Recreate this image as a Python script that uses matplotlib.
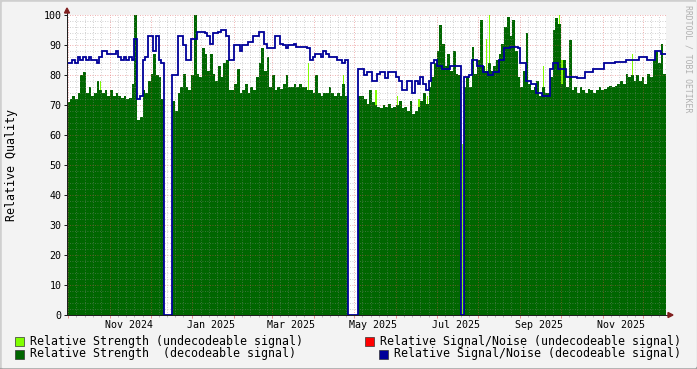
import numpy as np
import matplotlib
matplotlib.use('Agg')
import matplotlib.pyplot as plt
import matplotlib.dates as mdates
from matplotlib.patches import Rectangle, Polygon
from matplotlib.transforms import blended_transform_factory

# ---- data: one value every 2 days starting 2024-09-30 ----
start = np.datetime64('2024-09-30')
step_days = 2

strength_ok = [
    71, 72, 73, 72, 74, 80, 81, 74, 76, 73,
    74, 78, 75, 74, 75, 73, 75, 73, 74, 73,
    72.5, 73, 72, 72.5, 77, 100, 65, 66, 75, 74,
    78, 80.5, 87, 80, 79.5, 72, 0, 0, 0, 71.5,
    68, 74, 76, 80.5, 76, 75, 80, 100, 80.5, 79.5,
    89, 87, 81.5, 87, 80.5, 78, 83, 79.5, 84, 85,
    75, 75, 77, 82, 74, 75, 77, 74, 76, 75,
    79.5, 84, 89, 81.5, 86, 76, 80, 75, 76, 75.5,
    77, 80, 76, 76, 77, 76, 77, 76, 76, 75,
    75, 74, 80, 74, 73, 74, 74, 76, 74, 73,
    74, 73, 77, 73, 0, 0, 0, 0, 73, 73,
    72, 70.5, 75, 71, 70, 69.5, 69, 70, 69.5, 70.5,
    69, 69.5, 70, 71.5, 69, 69.5, 68, 71.5, 67, 68,
    69.5, 71.5, 74, 70.5, 76, 79.5, 84, 88, 96.7, 90.5,
    83, 87, 81.5, 88, 80.5, 80, 0, 76, 79.5, 76,
    89.5, 80.5, 85, 98.3, 83, 81.5, 84, 81.5, 83, 85,
    87, 90.5, 96, 99.5, 93, 98.3, 88, 79.5, 76, 81.5,
    94, 77, 75, 76, 78, 73, 76, 74, 74, 79.5,
    95, 99, 97, 77, 85, 76, 91.7, 75, 76, 74,
    76, 75, 74, 75.5, 75, 74, 75, 76, 75, 75.5,
    76, 76.5, 76, 76.5, 77, 78, 77, 80.5, 79.5, 80,
    78, 80, 78, 79.5, 77, 80.5, 79.5, 85, 88, 84,
    90.5, 80.5,
]

snr_ok = [
    84, 84, 85, 84, 86, 85, 86, 85, 86, 85,
    85, 84, 86, 88, 88, 87, 87, 87, 88, 86,
    85, 86, 85, 86, 85, 92, 72, 73, 85, 86,
    93, 93, 88, 93, 85, 84, 0, 0, 0, 80,
    80, 93, 93, 90, 85, 85, 92, 92, 94.5, 94.5,
    94.5, 94, 93, 90.5, 94, 94, 94.5, 95, 95, 93,
    85, 85, 90, 90, 88, 90, 90, 91, 91, 93,
    93, 94.5, 94.5, 90.5, 89, 89, 89, 93, 93, 90.5,
    90, 89, 90, 90, 90.5, 89.5, 89.5, 89.5, 89.5, 89,
    85, 86, 87, 87, 86, 88, 87, 86, 86, 86,
    85, 85, 84, 85, 0, 0, 0, 0, 82, 82,
    80, 81, 81, 78, 78, 80.5, 81, 81, 79, 81,
    81, 81, 79.5, 78, 75, 75, 78, 78, 74, 78,
    77, 79.5, 77, 75, 78, 84, 85, 83, 83, 82,
    82, 82, 83, 83, 83, 83, 0, 79.5, 79.5, 80,
    85, 85, 83, 83, 81, 81, 80, 80, 81, 81,
    85, 85, 89, 89, 89.5, 89.5, 89.5, 89, 84, 84,
    78, 78, 77, 77, 74, 74, 73, 73, 73, 82,
    84, 84, 82, 82, 82, 79.5, 79.5, 79.5, 79.5, 79,
    79, 79, 81, 81, 81, 82, 82, 82, 82, 84,
    84, 84, 84, 84.5, 84.5, 84.5, 84.5, 85, 85, 85,
    85, 85, 86, 86, 86, 85, 85, 85, 88, 88,
    87, 87,
]

# undecodeable strength spikes (sample index, value)
undec_idx = [12, 89, 102, 114, 122, 130, 133, 146, 155, 156, 176, 182, 183, 209]
undec_val = [78, 84, 80, 75, 73, 72, 73, 57, 92, 100, 83, 100, 85, 87]

month_labels = ['Nov 2024', 'Jan 2025', 'Mar 2025', 'May 2025', 'Jul 2025', 'Sep 2025', 'Nov 2025']
label_dates = ['2024-11-15', '2025-01-15', '2025-03-15', '2025-05-15', '2025-07-15', '2025-09-15', '2025-11-15']

legend_items = [
    ('Relative Strength (undecodeable signal)', '#80ff00'),
    ('Relative Strength  (decodeable signal)', '#006600'),
    ('Relative Signal/Noise (undecodeable signal)', '#ff0000'),
    ('Relative Signal/Noise (decodeable signal)', '#000099'),
]

# ---- figure ----
W, H = 697, 369
plt.rcParams['font.family'] = 'DejaVu Sans Mono'
fig = plt.figure(figsize=(W / 100, H / 100), dpi=100, facecolor='#f3f3f3')


def fx(px):
    return px / W


def fy(py):
    return 1 - py / H


# shade border like rrdtool
fig.patches.append(Rectangle((0, 0), 1, fy(H - 2), transform=fig.transFigure, color='#9e9e9e', zorder=-3))
fig.patches.append(Rectangle((0, fy(H - 2)), fx(W - 2), 1 - fy(H - 2), transform=fig.transFigure,
                             color='#cfcfcf', zorder=-2))
fig.patches.append(Rectangle((fx(2), fy(H - 2)), fx(W - 4), fy(2) - fy(H - 2), transform=fig.transFigure,
                             color='#f3f3f3', zorder=-1))

ax = fig.add_axes([fx(67), fy(315), fx(599), fy(15) - fy(315)], zorder=2)
ax.set_facecolor('white')

edges = start + np.arange(0, step_days * (len(strength_ok) + 1), step_days).astype('timedelta64[D]')
xe = mdates.date2num(edges)

ud_x = xe[np.array(undec_idx)] + 0.5
ax.bar(ud_x, undec_val, width=1.0, align='edge', color='#80ff00', zorder=1.5, linewidth=0)
ax.stairs(strength_ok, xe, fill=True, color='#006600', baseline=0, zorder=2)
ax.stairs(snr_ok, xe, color='#000099', linewidth=1.3, baseline=None, zorder=3)

ax.set_xlim(xe[0], xe[-1])
ax.set_ylim(0, 100)

# grid (dotted, drawn over the areas like rrdtool)
ax.xaxis.set_major_locator(mdates.MonthLocator())
ax.xaxis.set_minor_locator(mdates.MonthLocator(bymonthday=[7, 13, 19, 25]))
ax.yaxis.set_major_locator(plt.MultipleLocator(10))
ax.yaxis.set_minor_locator(plt.MultipleLocator(2))
ax.grid(False)
grid_minor = (0.56, 0.56, 0.56, 0.55)
grid_major = (0.87, 0.31, 0.31, 0.6)
dots = (0, (1, 2))
for d in ax.xaxis.get_minorticklocs():
    ax.axvline(d, color=grid_minor, ls=dots, lw=0.6, zorder=2.5)
for v in np.arange(2, 100, 2):
    if v % 10:
        ax.axhline(v, color=grid_minor, ls=dots, lw=0.6, zorder=2.5)
for d in ax.xaxis.get_majorticklocs():
    ax.axvline(d, color=grid_major, ls=dots, lw=0.6, zorder=2.6)
for v in np.arange(10, 101, 10):
    ax.axhline(v, color=grid_major, ls=dots, lw=0.6, zorder=2.6)

ax.xaxis.set_major_formatter(plt.NullFormatter())
ax.tick_params(axis='x', which='major', length=2.5, width=0.72, color=(0.87, 0.31, 0.31, 0.6), labelbottom=False)
ax.tick_params(axis='x', which='minor', length=1.5, width=0.72, color=(0.56, 0.56, 0.56, 0.6))
ax.tick_params(axis='y', which='major', length=2.5, width=0.72, color='#1f1f1f', labelsize=7.2, pad=1.5)
ax.tick_params(axis='y', which='minor', length=0)

for s in ax.spines.values():
    s.set_visible(False)

# axes with arrows
ax.plot([0, 0], [0, 1 + 2 / 300], transform=ax.transAxes, color='#1f1f1f', lw=0.72, clip_on=False, zorder=5)
ax.plot([0, 1 + 3 / 599], [0, 0], transform=ax.transAxes, color='#1f1f1f', lw=0.72, clip_on=False, zorder=5)
arrow_col = (0.5, 0.12, 0.12)
fig.patches.append(Polygon([(fx(64.5), fy(13)), (fx(69.5), fy(13)), (fx(67), fy(8))], closed=True,
                           transform=fig.transFigure, color=arrow_col, zorder=6))
fig.patches.append(Polygon([(fx(668), fy(312.5)), (fx(668), fy(317.5)), (fx(673), fy(315))], closed=True,
                           transform=fig.transFigure, color=arrow_col, zorder=6))

# month labels centred mid-month
trans = blended_transform_factory(ax.transData, ax.transAxes)
for lab, d in zip(month_labels, label_dates):
    ax.text(mdates.date2num(np.datetime64(d)), -10 / 300, lab, transform=trans,
            ha='center', va='center', fontsize=7.2)

fig.text(fx(12), fy(165), 'Relative Quality', rotation=90, ha='center', va='center', fontsize=8.4)
fig.text(fx(688), fy(5), 'RRDTOOL / TOBI OETIKER', rotation=270, ha='center', va='top',
         fontsize=5.9, color='#b0b0b0')

# legend
leg_pos = [(15, 341), (15, 354), (365, 341), (379, 354)]
for (text, col), (lx, ly) in zip(legend_items, leg_pos):
    fig.patches.append(Rectangle((fx(lx), fy(ly + 4.5)), fx(9), fy(ly - 4.5) - fy(ly + 4.5),
                                 transform=fig.transFigure, facecolor=col, edgecolor='#333333', lw=0.5))
    fig.text(fx(lx + 15), fy(ly), text, ha='left', va='center', fontsize=8.35)

fig.savefig('out.png', dpi=100, facecolor=fig.get_facecolor())
